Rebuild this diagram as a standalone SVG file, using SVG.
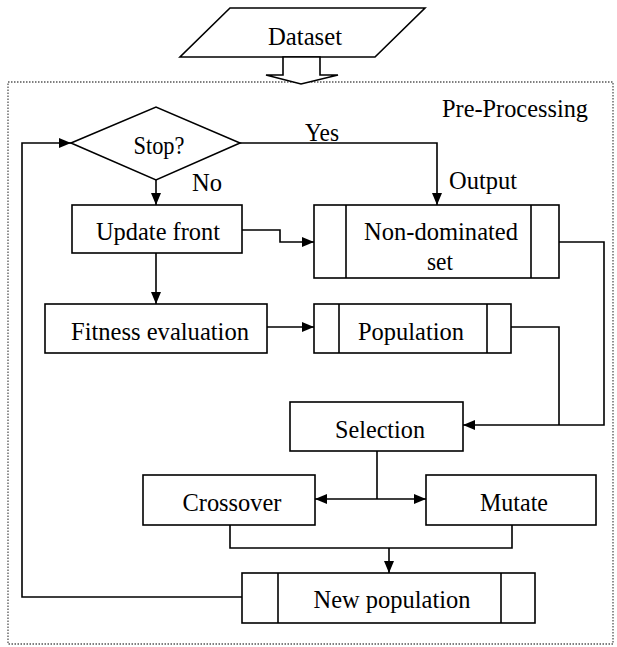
<svg xmlns="http://www.w3.org/2000/svg" width="617" height="647" viewBox="0 0 617 647">
<defs>
<style>
.b{fill:#fff;stroke:#000;stroke-width:1.6}
.l{fill:none;stroke:#000;stroke-width:1.6}
.t{font-family:"Liberation Serif","Times New Roman",serif;font-size:26px;fill:#000;text-anchor:middle}
</style>
<marker id="ah" viewBox="0 0 12 10" refX="12" refY="5" markerWidth="12" markerHeight="10" markerUnits="userSpaceOnUse" orient="auto-start-reverse">
<path d="M0,0 L12,5 L0,10 Z" fill="#000"/>
</marker>
</defs>
<rect width="617" height="647" fill="#fff"/>
<rect x="8" y="82" width="605" height="562" fill="none" stroke="#555" stroke-width="1.3" stroke-dasharray="1.5,1.5"/>
<text class="t" x="515" y="117" textLength="146" lengthAdjust="spacingAndGlyphs">Pre-Processing</text>

<g id="dataset">
<polygon class="b" points="230,8 425,8 375,57 180,57"/>
<text class="t" x="305" y="45" textLength="74" lengthAdjust="spacingAndGlyphs">Dataset</text>
</g>
<g id="dataset-arrow">
<polygon class="b" points="283,57 283,75 266,75 301,84 338,75 320,75 320,57"/>
</g>

<g id="stop">
<polygon class="b" points="71,143 156,107 240,143 156,180"/>
<text class="t" x="159" y="154" textLength="51" lengthAdjust="spacingAndGlyphs">Stop?</text>
</g>
<g id="update-front">
<rect class="b" x="72" y="205" width="170" height="48"/>
<text class="t" x="158" y="240" textLength="124" lengthAdjust="spacingAndGlyphs">Update front</text>
</g>
<g id="non-dominated">
<rect class="b" x="314" y="205" width="245" height="73"/>
<line class="l" x1="346" y1="205" x2="346" y2="278"/>
<line class="l" x1="531" y1="205" x2="531" y2="278"/>
<text class="t" x="441" y="240" textLength="154" lengthAdjust="spacingAndGlyphs">Non-dominated</text>
<text class="t" x="440" y="270" textLength="26" lengthAdjust="spacingAndGlyphs">set</text>
</g>
<g id="fitness">
<rect class="b" x="45" y="304" width="222" height="49"/>
<text class="t" x="160" y="340" textLength="178" lengthAdjust="spacingAndGlyphs">Fitness evaluation</text>
</g>
<g id="population">
<rect class="b" x="314" y="304" width="197" height="49"/>
<line class="l" x1="339" y1="304" x2="339" y2="353"/>
<line class="l" x1="487" y1="304" x2="487" y2="353"/>
<text class="t" x="411" y="340" textLength="106" lengthAdjust="spacingAndGlyphs">Population</text>
</g>
<g id="selection">
<rect class="b" x="290" y="402" width="173" height="49"/>
<text class="t" x="380" y="438" textLength="90" lengthAdjust="spacingAndGlyphs">Selection</text>
</g>
<g id="crossover">
<rect class="b" x="143" y="475" width="172" height="50"/>
<text class="t" x="232" y="511" textLength="99" lengthAdjust="spacingAndGlyphs">Crossover</text>
</g>
<g id="mutate">
<rect class="b" x="426" y="475" width="170" height="50"/>
<text class="t" x="514" y="511" textLength="68" lengthAdjust="spacingAndGlyphs">Mutate</text>
</g>
<g id="new-population">
<rect class="b" x="242" y="573" width="293" height="50"/>
<line class="l" x1="278" y1="573" x2="278" y2="623"/>
<line class="l" x1="501" y1="573" x2="501" y2="623"/>
<text class="t" x="392" y="608" textLength="157" lengthAdjust="spacingAndGlyphs">New population</text>
</g>

<g id="connectors">
<polyline class="l" points="240,143 437,143 437,205" marker-end="url(#ah)"/>
<text class="t" x="322" y="141" textLength="34" lengthAdjust="spacingAndGlyphs">Yes</text>
<text class="t" x="483" y="189" textLength="68" lengthAdjust="spacingAndGlyphs">Output</text>
<line class="l" x1="156" y1="180" x2="156" y2="205" marker-end="url(#ah)"/>
<text class="t" x="207" y="191" textLength="30" lengthAdjust="spacingAndGlyphs">No</text>
<polyline class="l" points="242,230 280,230 280,242 314,242" marker-end="url(#ah)"/>
<line class="l" x1="156" y1="253" x2="156" y2="304" marker-end="url(#ah)"/>
<line class="l" x1="267" y1="327" x2="314" y2="327" marker-end="url(#ah)"/>
<polyline class="l" points="559,242 604,242 604,425 463,425" marker-end="url(#ah)"/>
<polyline class="l" points="511,327 559,327 559,425"/>
<line class="l" x1="377" y1="451" x2="377" y2="499"/>
<line class="l" x1="315" y1="499" x2="426" y2="499" marker-start="url(#ah)" marker-end="url(#ah)"/>
<polyline class="l" points="230,525 230,548 512,548 512,525"/>
<line class="l" x1="389" y1="548" x2="389" y2="573" marker-end="url(#ah)"/>
<polyline class="l" points="242,597 22,597 22,143 71,143" marker-end="url(#ah)"/>
</g>
</svg>
